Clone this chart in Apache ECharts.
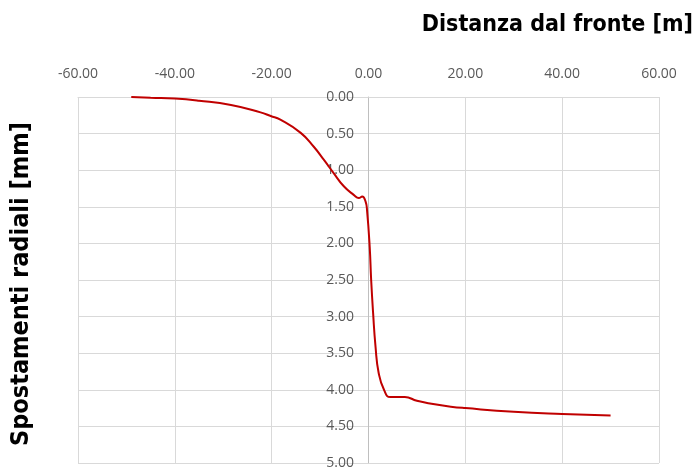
<!DOCTYPE html>
<html lang="it">
<head>
  <meta charset="UTF-8">
  <title>Spostamenti radiali</title>
  <script src="https://cdn.jsdelivr.net/npm/echarts@6/dist/echarts.min.js"></script>
  <style>
    html, body { margin: 0; padding: 0; background: #fff; }
  </style>
</head>
<body>
  <div id="app" style="width: 698px; height: 471px;"></div>
  <script>
    // distanza dal fronte [m] e spostamenti radiali [mm]
    var distanza = [-49, -45, -40, -35, -28.4, -22.3, -20.2, -18.2, -14, -11.3, -9.2, -7.2, -5.1, -3.0, -2.0, -1.3, -0.6, -0.3,
      0.25, 0.55, 0.95, 1.45, 2.1, 3.2, 4.5, 7.5, 10, 13, 17, 20, 30, 40, 50]
    var spostamenti = [0.0, 0.01, 0.02, 0.05, 0.11, 0.21, 0.26, 0.31, 0.49, 0.68, 0.86, 1.04, 1.22, 1.34, 1.38, 1.36, 1.43, 1.55,
      2.05, 2.5, 2.95, 3.41, 3.77, 4.0, 4.1, 4.1, 4.15, 4.19, 4.23, 4.25, 4.3, 4.33, 4.35]

    var titoloX = 'Distanza dal fronte [m]'
    var titoloY = 'Spostamenti radiali [mm]'

    var punti = distanza.map(function (x, i) { return [x, spostamenti[i]] })

    var mCharts = echarts.init(document.querySelector('#app'))
    var font = 'Open Sans'
    var fontTitoli = '"DejaVu Sans Condensed", sans-serif'

    var option = {
      animation: false,
      grid: { left: 78, right: 39, top: 97, bottom: 8 },
      graphic: [
        {
          type: 'text', x: 693, y: 25,
          style: {
            text: titoloX, fontFamily: fontTitoli, fontWeight: 'bold', fontSize: 23, fill: '#000',
            align: 'right', verticalAlign: 'middle'
          }
        },
        {
          type: 'text', x: 21, y: 284, rotation: Math.PI / 2,
          style: {
            text: titoloY, fontFamily: fontTitoli, fontWeight: 'bold', fontSize: 25, fill: '#000',
            align: 'center', verticalAlign: 'middle'
          }
        }
      ],
      xAxis: {
        type: 'value', position: 'top', min: -60, max: 60, interval: 20,
        axisLine: { onZero: false, lineStyle: { color: '#d9d9d9' } },
        axisTick: { show: false },
        axisLabel: {
          margin: 16, color: '#595959', fontFamily: font, fontSize: 14,
          formatter: function (v) { return v.toFixed(2) }
        },
        splitLine: { lineStyle: { color: '#d9d9d9', width: 1 } }
      },
      yAxis: {
        type: 'value', inverse: true, min: 0, max: 5, interval: 0.5,
        offset: -290, // l'asse sta sullo zero delle distanze
        axisLine: { show: true, onZero: false, lineStyle: { color: '#bfbfbf' } },
        axisTick: { show: false },
        axisLabel: {
          margin: 14, color: '#595959', fontFamily: font, fontSize: 14,
          formatter: function (v) { return v.toFixed(2) }
        },
        splitLine: { lineStyle: { color: '#d9d9d9', width: 1 } }
      },
      series: [{
        type: 'line',
        data: punti,
        smooth: 0.5,
        showSymbol: false,
        lineStyle: { color: '#c00000', width: 2 }
      }]
    }
    mCharts.setOption(option)
  </script>
</body>
</html>
